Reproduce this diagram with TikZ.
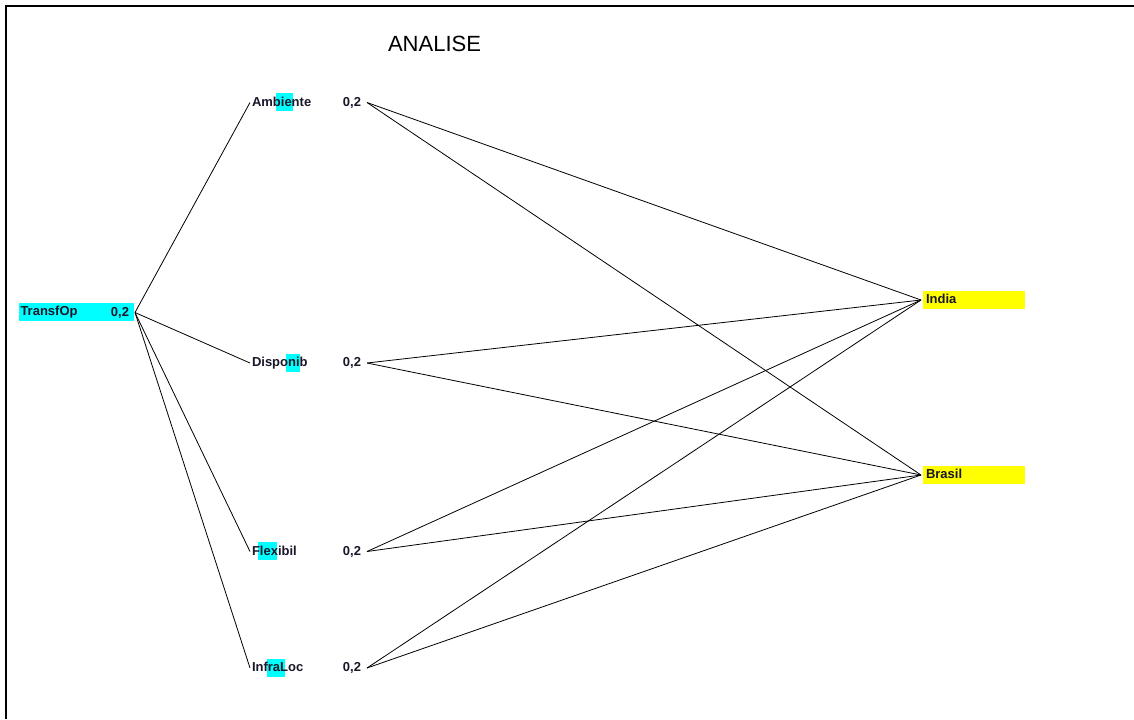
\documentclass[tikz,border=0pt]{standalone}
\usepackage{fontspec}
\setmainfont{Liberation Sans}
\usepackage{tikz}
\usetikzlibrary{positioning}
\definecolor{hlcyan}{RGB}{0,255,255}
\definecolor{hlyellow}{RGB}{255,255,0}
\definecolor{labelink}{RGB}{24,22,40}

\begin{document}
\begin{tikzpicture}[
      x=0.75pt, y=-0.75pt,
      lbl/.style={anchor=west, inner sep=0pt, outer xsep=1.5pt, text height=7pt, text depth=1.5pt,
        font=\fontsize{9.75}{11}\selectfont\bfseries, text=labelink},
      val/.style={lbl, anchor=east, outer xsep=4.5pt},
      goal/.style={lbl, fill=hlcyan, minimum width=86.25pt, minimum height=13pt, inner xsep=1.5pt,
        text width=83.25pt, align=left},
      alt/.style={lbl, fill=hlyellow, minimum width=76.5pt, minimum height=13.5pt, inner xsep=2.25pt,
        text width=72pt, align=left},
      hl/.style={fill=hlcyan},
      link/.style={draw=black, line width=0.6pt}
    ]
    \useasboundingbox (0,0) rectangle (1134,719);
    \draw[line width=1.5pt] (6,719) -- (6,6) -- (1134,6);

    \node[font=\fontsize{16.5}{18}\selectfont] (title) at (434.5,44) {ANALISE};

    % partial highlights behind the criteria
    \fill[hl] (276,93) rectangle (293,111);
    \fill[hl] (286,354) rectangle (300,372);
    \fill[hl] (258,542) rectangle (277,560);
    \fill[hl] (267,659) rectangle (285,677);

    \node[goal] (transf) at (16.5,312) {TransfOp};
    \node[val] (vtransf) at (135,312.5) {0,2};

    \node[lbl] (amb) at (250,102.5) {Ambiente};
    \node[lbl] (disp) at (250,363) {Disponib};
    \node[lbl] (flex) at (250,551.5) {Flexibil};
    \node[lbl] (infra) at (250,668) {InfraLoc};

    \node[val] (vamb) at (367,102.5) {0,2};
    \node[val] (vdisp) at (367,363) {0,2};
    \node[val] (vflex) at (367,551.5) {0,2};
    \node[val] (vinfra) at (367,668) {0,2};

    \node[alt] (india) at (921,300) {India};
    \node[alt] (brasil) at (921,475) {Brasil};

    \draw[link] (vtransf.east) -- (amb.west);
    \draw[link] (vtransf.east) -- (disp.west);
    \draw[link] (vtransf.east) -- (flex.west);
    \draw[link] (vtransf.east) -- (infra.west);

    \draw[link] (vamb.east) -- (india.west);
    \draw[link] (vamb.east) -- (brasil.west);
    \draw[link] (vdisp.east) -- (india.west);
    \draw[link] (vdisp.east) -- (brasil.west);
    \draw[link] (vflex.east) -- (india.west);
    \draw[link] (vflex.east) -- (brasil.west);
    \draw[link] (vinfra.east) -- (india.west);
    \draw[link] (vinfra.east) -- (brasil.west);
  \end{tikzpicture}
\end{document}
